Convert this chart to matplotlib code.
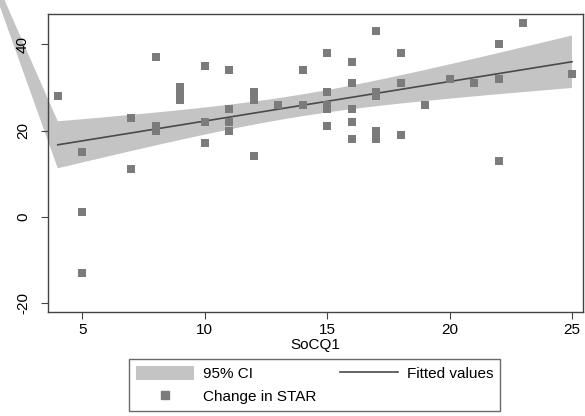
import numpy as np
import matplotlib
matplotlib.use("Agg")
import matplotlib.pyplot as plt
from matplotlib.patches import Polygon, Patch
from matplotlib.lines import Line2D

plt.rcParams['font.family'] = ['Liberation Sans', 'DejaVu Sans']

## data

socq1 = [4, 5, 5, 5, 7, 7, 8, 8, 8, 9, 9, 9, 10, 10, 10,
         11, 11, 11, 11, 12, 12, 12, 13, 14, 14,
         15, 15, 15, 15, 15, 16, 16, 16, 16, 16,
         17, 17, 17, 17, 17, 18, 18, 18, 19, 20, 21, 22, 22, 22, 23, 25]
star = [28, 15, 1, -13, 23, 11, 37, 21, 20, 30, 29, 27, 35, 22, 17,
        34, 25, 22, 20, 29, 27, 14, 26, 34, 26,
        38, 29, 26, 25, 21, 36, 31, 25, 22, 18,
        43, 29, 28, 20, 18, 38, 31, 19, 26, 32, 31, 40, 32, 13, 45, 33]

xticks = [5, 10, 15, 20, 25]
yticks = [-20, 0, 20, 40]

# stray corner of the CI polygon that runs off the plot on the left
apex = (0.3, 70)

## fit + 95% CI of the mean (like lfitci)

x = np.array(socq1, dtype=float)
y = np.array(star, dtype=float)
n = len(x)
b, a = np.polyfit(x, y, 1)
resid = y - (a + b * x)
s = np.sqrt(np.sum(resid**2) / (n - 2))
sxx = np.sum((x - x.mean())**2)
tval = 2.008  # t(0.975, 49)

xg = np.linspace(x.min(), x.max(), 100)
yfit = a + b * xg
se = s * np.sqrt(1 / n + (xg - x.mean())**2 / sxx)
lo = yfit - tval * se
hi = yfit + tval * se

## plot

fig = plt.figure(figsize=(5.85, 4.16), dpi=100)
ax = fig.add_axes([0.082, 0.25, 0.9146, 0.716])

band_col = '#c4c4c4'
mark_col = '#7b7b7b'
line_col = '#4a4a4a'

pts = [apex] + list(zip(xg, hi)) + list(zip(xg[::-1], lo[::-1]))
ax.add_patch(Polygon(pts, closed=True, facecolor=band_col, edgecolor='none',
                     clip_on=False, zorder=1))
ax.plot(xg, yfit, color=line_col, lw=1.2, zorder=2)
ax.scatter(x, y, marker='s', s=32, color=mark_col, linewidths=0, zorder=3)

ax.set_xlim(3.6, 25.45)
ax.set_ylim(-22.1, 47)
ax.set_xticks(xticks)
ax.set_yticks(yticks)
ax.set_yticklabels([str(v) for v in yticks], rotation=90, va='center')
ax.tick_params(labelsize=11, length=5, color='#444444')
ax.tick_params(axis='x', pad=3)
ax.tick_params(axis='y', pad=8)
for sp in ax.spines.values():
    sp.set_color('#444444')
    sp.set_linewidth(1.0)
ax.set_xlabel('SoCQ1', fontsize=11, labelpad=1)

handles = [Patch(facecolor=band_col, edgecolor='none'),
           Line2D([], [], marker='s', ls='none', color=mark_col, markersize=5.5),
           Line2D([], [], color=line_col, lw=1.2)]
labels = ['95% CI', 'Change in STAR', 'Fitted values']
leg = fig.legend(handles, labels, ncol=2, loc='center',
                 bbox_to_anchor=(0.538, 0.0745), fontsize=11, frameon=True,
                 fancybox=False, handlelength=3.8, handleheight=1.0,
                 handletextpad=0.55, columnspacing=1.6,
                 borderpad=0.45, labelspacing=0.5)
leg.get_frame().set_edgecolor('#444444')
leg.get_frame().set_linewidth(1.0)

fig.savefig('out.png', dpi=100)
